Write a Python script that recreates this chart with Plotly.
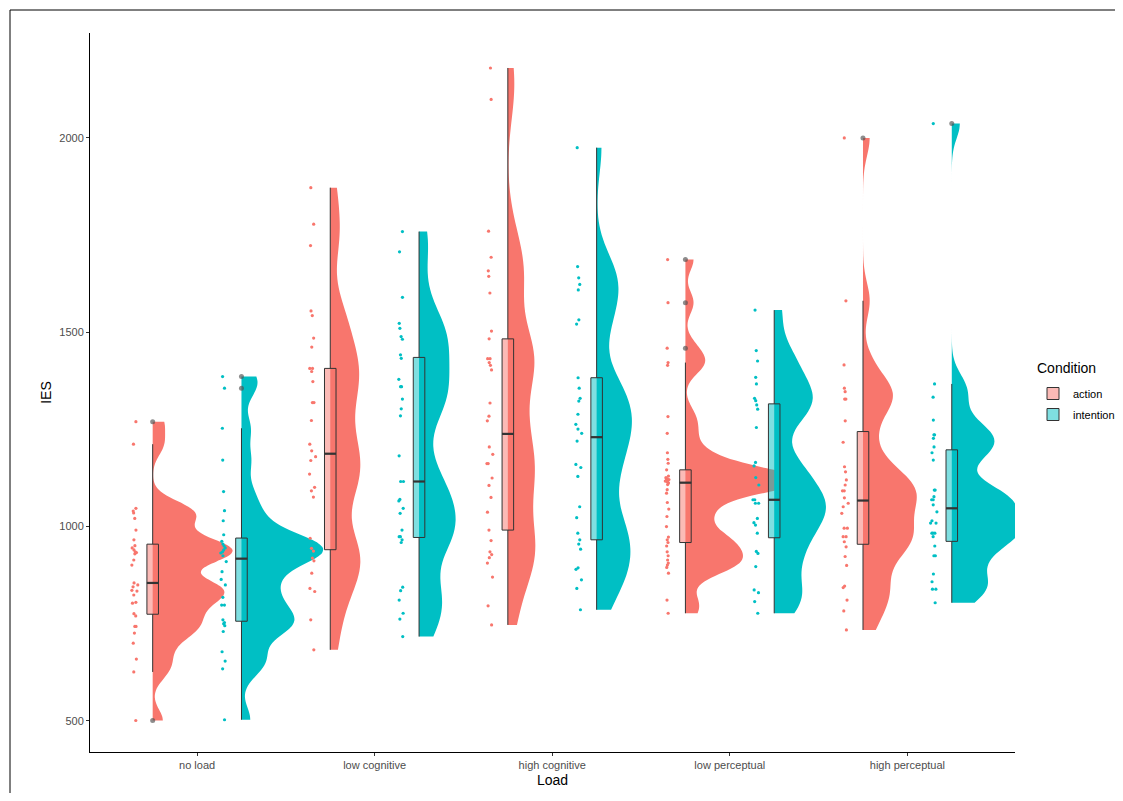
import numpy as np
import plotly.graph_objects as go

categories = ["no load", "low cognitive", "high cognitive", "low perceptual", "high perceptual"]
conditions = ["action", "intention"]
colors = {"action": "#F8766D", "intention": "#00BFC4"}
fills = {"action": "rgba(248,118,109,0.5)", "intention": "rgba(0,191,196,0.5)"}
y_ticks = [500, 1000, 1500, 2000]

no_load_action = [501, 626, 659, 700, 726, 743, 743, 770, 776, 803, 805, 824, 834, 836, 845, 850, 855,
                  901, 914, 930, 933, 935, 940, 945, 951, 966, 991, 1021, 1035, 1040, 1047, 1212, 1270]
no_load_intention = [503, 634, 654, 678, 730, 745, 750, 753, 760, 798, 798, 818, 850, 864, 884, 910, 925,
                     932, 935, 940, 945, 950, 955, 962, 979, 1015, 1041, 1090, 1171, 1253, 1356, 1386]
low_cognitive_action = [683, 760, 833, 841, 880, 912, 919, 937, 944, 970, 1076, 1092, 1101, 1135, 1170, 1180,
                        1195, 1212, 1273, 1319, 1319, 1373, 1399, 1407, 1407, 1462, 1485, 1543, 1555, 1723,
                        1778, 1872]
low_cognitive_intention = [717, 762, 777, 811, 835, 844, 959, 966, 974, 974, 991, 1034, 1047, 1066, 1070, 1116,
                           1116, 1182, 1285, 1303, 1328, 1360, 1360, 1379, 1433, 1442, 1482, 1489, 1510, 1523,
                           1590, 1707, 1759]
high_cognitive_action = [747, 796, 870, 906, 920, 928, 935, 964, 991, 1037, 1075, 1106, 1125, 1162, 1162, 1186,
                         1205, 1272, 1284, 1318, 1403, 1415, 1422, 1432, 1432, 1483, 1503, 1601, 1644, 1658,
                         1693, 1760, 2099, 2180]
high_cognitive_intention = [786, 841, 863, 890, 894, 942, 955, 966, 983, 1023, 1051, 1129, 1152, 1160, 1220, 1240,
                            1251, 1263, 1289, 1323, 1330, 1356, 1383, 1521, 1532, 1609, 1623, 1640, 1669, 1975]
low_perceptual_action = [777, 811, 880, 895, 901, 906, 914, 925, 935, 950, 959, 966, 973, 1000, 1026, 1045, 1062,
                         1086, 1095, 1108, 1112, 1114, 1116, 1117, 1118, 1120, 1121, 1122, 1124, 1126, 1130,
                         1146, 1163, 1173, 1190, 1240, 1283, 1415, 1422, 1459, 1576, 1687]
low_perceptual_intention = [777, 807, 830, 837, 897, 931, 936, 983, 1004, 1010, 1021, 1060, 1060, 1069, 1069, 1107,
                            1126, 1156, 1165, 1255, 1302, 1313, 1324, 1330, 1367, 1384, 1426, 1453, 1557]
high_perceptual_action = [734, 783, 811, 843, 847, 900, 923, 948, 961, 974, 974, 996, 996, 1034, 1051, 1060, 1074,
                          1092, 1092, 1107, 1120, 1141, 1154, 1217, 1272, 1328, 1328, 1347, 1356, 1416, 1581, 2000]
high_perceptual_intention = [804, 839, 839, 858, 878, 925, 925, 950, 974, 983, 983, 983, 1009, 1009, 1015, 1038,
                             1056, 1069, 1069, 1077, 1094, 1094, 1171, 1190, 1205, 1227, 1236, 1236, 1274, 1333,
                             1367, 2037]

data = {
    ("no load", "action"): no_load_action,
    ("no load", "intention"): no_load_intention,
    ("low cognitive", "action"): low_cognitive_action,
    ("low cognitive", "intention"): low_cognitive_intention,
    ("high cognitive", "action"): high_cognitive_action,
    ("high cognitive", "intention"): high_cognitive_intention,
    ("low perceptual", "action"): low_perceptual_action,
    ("low perceptual", "intention"): low_perceptual_intention,
    ("high perceptual", "action"): high_perceptual_action,
    ("high perceptual", "intention"): high_perceptual_intention,
}

DODGE = 0.25
BOX_W = 0.065
REF_HALF_W = 0.45          # half-width (x units) given to the "no load / action" violin
BW_ADJUST = 0.5
PT_OFF = 0.10

# figure / plot area geometry (pixels); page body has an 8px margin
W, H = 1107, 785
L, R, T, B = 82, 100, 25, 41
pw, ph = W - L - R, H - T - B


def px2paper(px, py):
    return (px - L) / pw, 1 - (py - T) / ph


def nrd0(v):
    q1, q3 = np.percentile(v, [25, 75])
    return 0.9 * min(v.std(ddof=1), (q3 - q1) / 1.34) * len(v) ** -0.2


def kde_max(v, bw):
    g = np.linspace(v.min(), v.max(), 800)
    d = np.exp(-0.5 * ((g[:, None] - v[None, :]) / bw) ** 2).sum(axis=1) / (len(v) * bw * np.sqrt(2 * np.pi))
    return d.max()


groups = []
for ci, cat in enumerate(categories):
    for cond in conditions:
        vals = np.asarray(data[(cat, cond)], dtype=float)
        pos = ci + 1 + (-DODGE if cond == "action" else DODGE)
        bw = BW_ADJUST * nrd0(vals)
        groups.append(dict(ci=ci, cat=cat, cond=cond, vals=vals, pos=pos, bw=bw, dmax=kde_max(vals, bw)))

dref = groups[0]["dmax"]

fig = go.Figure()

# half violins (right side), equal-area scaling
for g in groups:
    fig.add_trace(go.Violin(
        x0=g["pos"], y=g["vals"], side="positive", width=2 * REF_HALF_W * g["dmax"] / dref,
        spanmode="hard", bandwidth=g["bw"], points=False, fillcolor=colors[g["cond"]],
        line=dict(width=0, color=colors[g["cond"]]), box_visible=False, meanline_visible=False,
        showlegend=False, hoverinfo="skip", name=g["cond"]))

# boxes
for g in groups:
    cond, pos, vals = g["cond"], g["pos"], g["vals"]
    fig.add_trace(go.Box(
        x0=pos, y=vals, width=BOX_W, fillcolor=fills[cond],
        line=dict(color="#333333", width=1), whiskerwidth=0, boxpoints="outliers",
        pointpos=0, jitter=0, quartilemethod="linear",
        marker=dict(color="rgba(80,80,80,0.65)", size=5, line=dict(width=0)),
        name=cond, legendgroup=cond, showlegend=(g["ci"] == 0), hoverinfo="y"))
    med = np.median(vals)
    fig.add_trace(go.Scatter(
        x=[pos - BOX_W / 2, pos + BOX_W / 2], y=[med, med], mode="lines",
        line=dict(color="#333333", width=2.2), showlegend=False, hoverinfo="skip"))

# jittered raw points
for g in groups:
    cond = g["cond"]
    fig.add_trace(go.Box(
        x0=g["pos"] - PT_OFF, y=g["vals"], width=0.1, boxpoints="all", jitter=0.4, pointpos=0,
        fillcolor="rgba(0,0,0,0)", line=dict(width=0, color="rgba(0,0,0,0)"),
        marker=dict(color=colors[cond], size=3.2, line=dict(width=0)),
        showlegend=False, hoverinfo="y", name=cond, legendgroup=cond))

# outer frame: top and left edges only
fx0, fy0 = px2paper(2, 2)
fx1, fy1 = px2paper(W, H)
fig.add_shape(type="line", xref="paper", yref="paper", x0=fx0, y0=fy0, x1=fx1, y1=fy0,
              line=dict(color="black", width=1))
fig.add_shape(type="line", xref="paper", yref="paper", x0=fx0, y0=fy0, x1=fx0, y1=fy1,
              line=dict(color="black", width=1))

tx, ty = px2paper(1027, 360)
fig.add_annotation(text="Condition", xref="paper", yref="paper", x=tx, y=ty, xanchor="left",
                   yanchor="middle", showarrow=False, font=dict(size=14, color="black"))
lx, ly = px2paper(1025, 371)

fig.update_layout(
    width=W, height=H,
    margin=dict(l=L, r=R, t=T, b=B, pad=0, autoexpand=False),
    paper_bgcolor="white", plot_bgcolor="white",
    boxmode="overlay", violinmode="overlay",
    font=dict(family="Liberation Sans, Arial, sans-serif", color="#4D4D4D", size=11),
    xaxis=dict(type="linear", range=[0.397, 5.606], tickvals=list(range(1, len(categories) + 1)),
               ticktext=categories, showgrid=False, zeroline=False, showline=True, automargin=False,
               linecolor="black", linewidth=1, ticks="outside", ticklen=3, tickcolor="#333333",
               tickfont=dict(size=11, color="#4D4D4D"),
               title=dict(text="Load", font=dict(size=14, color="black"), standoff=4)),
    yaxis=dict(range=[420, 2270], tickvals=y_ticks, showgrid=False, zeroline=False, showline=True,
               automargin=False,
               linecolor="black", linewidth=1, ticks="outside", ticklen=3, tickcolor="#333333",
               tickfont=dict(size=11, color="#4D4D4D"),
               title=dict(text="IES", font=dict(size=14, color="black"), standoff=4)),
    legend=dict(x=lx, y=ly, xanchor="left", yanchor="top",
                font=dict(size=11, color="black"), tracegroupgap=2, itemwidth=30),
)

fig.write_html("out.html")
